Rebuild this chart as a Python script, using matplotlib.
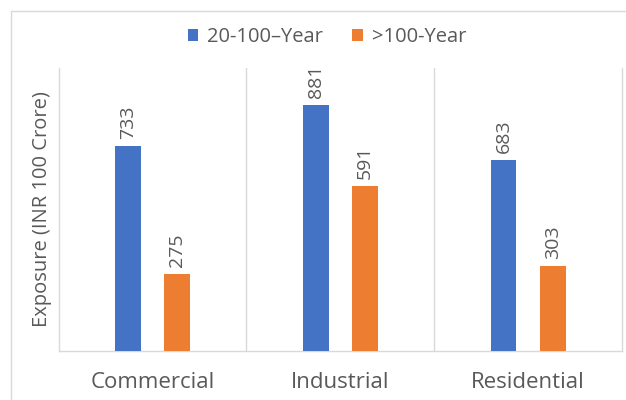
import matplotlib
matplotlib.use("Agg")
import matplotlib.pyplot as plt
import matplotlib.patches as mpatches
import numpy as np

plt.rcParams['font.family'] = ['Open Sans', 'DejaVu Sans']

categories = ['Commercial', 'Industrial', 'Residential']
series_names = ['20-100\u2013Year', '>100-Year']
values_mid = [733, 881, 683]
values_high = [275, 591, 303]

colors = {
    "blue": "#4472C4",
    "orange": "#ED7D31",
    "text": "#595959",
    "grid": "#D9D9D9",
}

fig = plt.figure(figsize=(6.26, 4.0), dpi=100)
ax = fig.add_axes([58.7 / 626, 49 / 400, (622 - 58.7) / 626, (351 - 68) / 400])

# outer frame of the chart area
fig.patches.append(mpatches.Rectangle((11 / 626, -0.05), 1.2, 0.05 + (400 - 11) / 400,
                                      transform=fig.transFigure, fill=False,
                                      edgecolor=colors["grid"], linewidth=1, zorder=0))

x = np.arange(len(categories))
width = 0.137
offset = 0.131
b1 = ax.bar(x - offset, values_mid, width, color=colors["blue"], label=series_names[0], zorder=3)
b2 = ax.bar(x + offset, values_high, width, color=colors["orange"], label=series_names[1], zorder=3)

for bars in (b1, b2):
    for rect in bars:
        h = rect.get_height()
        ax.annotate(f'{h:.0f}', (rect.get_x() + rect.get_width() / 2, h),
                    xytext=(0, 5), textcoords='offset points', rotation=90,
                    ha='center', va='bottom', fontsize=14, color=colors["text"])

ax.set_xlim(-0.5, len(categories) - 0.5)
ax.set_ylim(0, 1012)
for sep in np.arange(0.5, len(categories) - 0.5, 1):
    ax.axvline(sep, color=colors["grid"], linewidth=1, zorder=1)

for side in ['left', 'right', 'bottom']:
    ax.spines[side].set_color(colors["grid"])
    ax.spines[side].set_linewidth(1)
ax.spines['top'].set_visible(False)

ax.set_yticks([])
ax.set_xticks(x)
ax.set_xticklabels(categories, fontsize=16, color=colors["text"])
ax.tick_params(axis='x', length=0, pad=15)
ax.set_ylabel('Exposure (INR 100 Crore)', fontsize=14.5, color=colors["text"], labelpad=5)

fig.legend(handles=[b1, b2], loc='center', bbox_to_anchor=(327 / 626, 1 - 37 / 400), ncol=2,
           frameon=False, fontsize=14.5, handlelength=0.53, handleheight=0.53,
           columnspacing=1.45, handletextpad=0.45, labelcolor=colors["text"])

fig.savefig('out.png', dpi=100)
